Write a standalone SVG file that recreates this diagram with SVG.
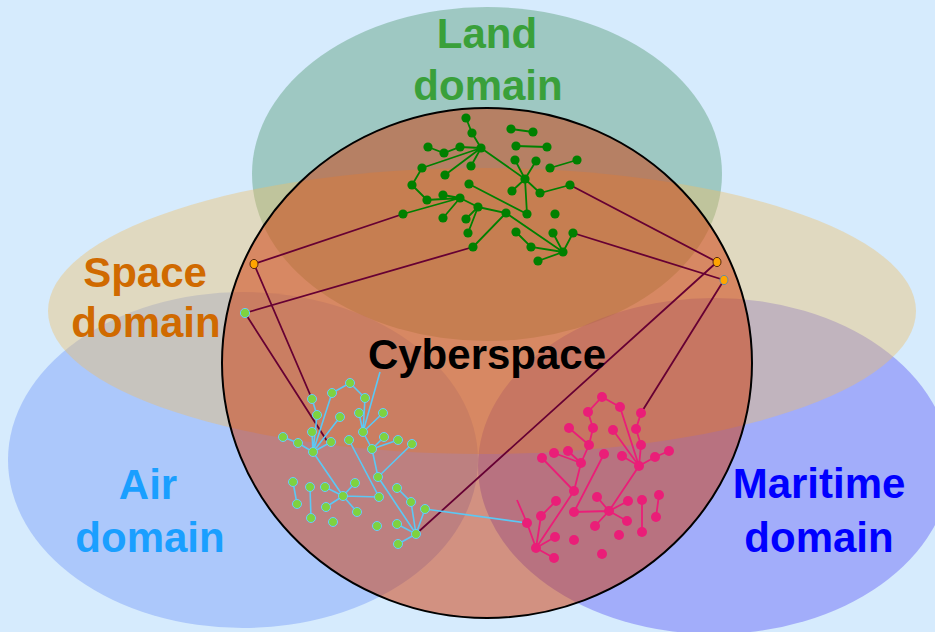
<svg xmlns="http://www.w3.org/2000/svg" width="935" height="632" viewBox="0 0 935 632">
<style>
.lbl{font-family:"Liberation Sans",Arial,sans-serif;font-weight:bold;font-size:42px;text-anchor:middle}
.le{stroke:#008000;stroke-width:1.8;fill:none}
.ln{fill:#008000}
.ae{stroke:#5bc8f5;stroke-width:1.6;fill:none}
.an{fill:#7fd23f;stroke:#66ccff;stroke-width:1}
.me{stroke:#ea1e78;stroke-width:1.8;fill:none}
.mn{fill:#ea1e78}
.cx{stroke:#660033;stroke-width:1.8;fill:none}
</style>
<rect width="935" height="632" fill="#d6ebfd"/>
<g id="land-domain"><ellipse cx="487" cy="174" rx="235" ry="167" fill="#5a9e7a" fill-opacity="0.45"/></g>
<g id="air-domain"><ellipse cx="243" cy="460" rx="235" ry="168" fill="#6f93f8" fill-opacity="0.4"/></g>
<g id="maritime-domain"><ellipse cx="714" cy="466" rx="236" ry="168" fill="#5650f5" fill-opacity="0.4"/></g>
<g id="space-domain"><ellipse cx="482" cy="311" rx="434" ry="143" fill="#efbe64" fill-opacity="0.4"/></g>
<g id="cyberspace"><ellipse cx="487" cy="363" rx="265" ry="255" fill="#ce3705" fill-opacity="0.5" stroke="#000" stroke-width="2"/></g>

<g id="connectors">
<path class="cx" d="M403,214L254,264M473,247L245,313M570,185L717,262M573,233L724,280M254,264L312,399M245,313L327,441M717,262L416,534M724,280L641,413"/>
<path class="ae" d="M425,509L527,523M363,432L380,372"/>
<path class="me" d="M527,523L517,500"/>
</g>

<g id="land-network">
<path class="le" d="M466,118L472,133L481,148M428,147L444,153L460,147L481,148M481,148L422,168M481,148L445,175M481,148L471,166M422,168L412,185L427,200L460,198M443,195L460,198M403,214L460,198M443,218L460,198M460,198L478,207L466,219M478,207L468,233M478,207L506,213L473,247M506,213L563,252M469,184L527,214L525,179M481,148L525,179M515,160L525,179M536,161L525,179M512,191L525,179M525,179L540,193L570,185M550,168L577,160M511,129L533,132M516,146L547,147M516,232L531,247L563,252M538,261L563,252M553,233L563,252M573,233L563,252"/>
<g class="ln">
<circle cx="466" cy="118" r="4.6"/><circle cx="472" cy="133" r="4.6"/><circle cx="481" cy="148" r="4.6"/><circle cx="428" cy="147" r="4.6"/><circle cx="444" cy="153" r="4.6"/><circle cx="460" cy="147" r="4.6"/><circle cx="471" cy="166" r="4.6"/><circle cx="445" cy="175" r="4.6"/><circle cx="422" cy="168" r="4.6"/><circle cx="412" cy="185" r="4.6"/><circle cx="427" cy="200" r="4.6"/><circle cx="443" cy="195" r="4.6"/><circle cx="460" cy="198" r="4.6"/><circle cx="403" cy="214" r="4.6"/><circle cx="443" cy="218" r="4.6"/><circle cx="478" cy="207" r="4.6"/><circle cx="466" cy="219" r="4.6"/><circle cx="468" cy="233" r="4.6"/><circle cx="473" cy="247" r="4.6"/><circle cx="506" cy="213" r="4.6"/><circle cx="469" cy="184" r="4.6"/><circle cx="527" cy="214" r="4.6"/><circle cx="525" cy="179" r="4.6"/><circle cx="515" cy="160" r="4.6"/><circle cx="536" cy="161" r="4.6"/><circle cx="512" cy="191" r="4.6"/><circle cx="540" cy="193" r="4.6"/><circle cx="570" cy="185" r="4.6"/><circle cx="550" cy="168" r="4.6"/><circle cx="577" cy="160" r="4.6"/><circle cx="511" cy="129" r="4.6"/><circle cx="533" cy="132" r="4.6"/><circle cx="516" cy="146" r="4.6"/><circle cx="547" cy="147" r="4.6"/><circle cx="555" cy="214" r="4.6"/><circle cx="563" cy="252" r="4.6"/><circle cx="516" cy="232" r="4.6"/><circle cx="531" cy="247" r="4.6"/><circle cx="538" cy="261" r="4.6"/><circle cx="553" cy="233" r="4.6"/><circle cx="573" cy="233" r="4.6"/>
</g>
</g>

<g id="air-network">
<path class="ae" d="M350,383L332,393L313,452M350,383L365,398L363,432M312,399L317,415L313,452M340,417L313,452M312,432L313,452M331,442L313,452M283,437L298,443L313,452M313,452L343,496M359,413L363,432M383,413L363,432M363,432L372,449L384,437M372,449L398,440M372,449L378,477L412,444M349,440L379,497L343,496M343,496L325,487M343,496L355,483M343,496L326,507M343,496L357,512M293,482L297,504M310,487L311,518M378,477L416,534M397,488L411,502L416,534M425,509L416,534M397,524L416,534L398,544"/>
<g class="an">
<circle cx="350" cy="383" r="4.5"/><circle cx="332" cy="393" r="4.5"/><circle cx="365" cy="398" r="4.5"/><circle cx="312" cy="399" r="4.5"/><circle cx="317" cy="415" r="4.5"/><circle cx="340" cy="417" r="4.5"/><circle cx="359" cy="413" r="4.5"/><circle cx="383" cy="413" r="4.5"/><circle cx="363" cy="432" r="4.5"/><circle cx="312" cy="432" r="4.5"/><circle cx="283" cy="437" r="4.5"/><circle cx="298" cy="443" r="4.5"/><circle cx="331" cy="442" r="4.5"/><circle cx="313" cy="452" r="4.5"/><circle cx="349" cy="440" r="4.5"/><circle cx="384" cy="437" r="4.5"/><circle cx="398" cy="440" r="4.5"/><circle cx="372" cy="449" r="4.5"/><circle cx="412" cy="444" r="4.5"/><circle cx="378" cy="477" r="4.5"/><circle cx="293" cy="482" r="4.5"/><circle cx="297" cy="504" r="4.5"/><circle cx="310" cy="487" r="4.5"/><circle cx="311" cy="518" r="4.5"/><circle cx="325" cy="487" r="4.5"/><circle cx="355" cy="483" r="4.5"/><circle cx="343" cy="496" r="4.5"/><circle cx="379" cy="497" r="4.5"/><circle cx="326" cy="507" r="4.5"/><circle cx="357" cy="512" r="4.5"/><circle cx="333" cy="522" r="4.5"/><circle cx="377" cy="526" r="4.5"/><circle cx="397" cy="488" r="4.5"/><circle cx="411" cy="502" r="4.5"/><circle cx="425" cy="509" r="4.5"/><circle cx="397" cy="524" r="4.5"/><circle cx="416" cy="534" r="4.5"/><circle cx="398" cy="544" r="4.5"/>
</g>
</g>

<g id="maritime-network">
<path class="me" d="M620,407L602,397L588,412L593,428L589,445L581,463M620,407L639,466M641,413L636,429L641,445L639,466M613,430L639,466M622,456L639,466M669,451L655,457L639,466M569,428L589,445M554,453L581,463M568,451L581,463M542,458L574,491M581,463L574,491L536,548M604,454L574,512L609,511M639,466L609,511M597,497L609,511M628,501L609,511M627,521L609,511M595,526L609,511M556,501L541,516L536,548M527,523L536,548M555,537L536,548L554,558M642,500L642,532M659,495L656,517"/>
<g class="mn">
<circle cx="602" cy="397" r="5"/><circle cx="620" cy="407" r="5"/><circle cx="588" cy="412" r="5"/><circle cx="641" cy="413" r="5"/><circle cx="569" cy="428" r="5"/><circle cx="593" cy="428" r="5"/><circle cx="613" cy="430" r="5"/><circle cx="636" cy="429" r="5"/><circle cx="589" cy="445" r="5"/><circle cx="641" cy="445" r="5"/><circle cx="669" cy="451" r="5"/><circle cx="554" cy="453" r="5"/><circle cx="568" cy="451" r="5"/><circle cx="542" cy="458" r="5"/><circle cx="581" cy="463" r="5"/><circle cx="604" cy="454" r="5"/><circle cx="622" cy="456" r="5"/><circle cx="655" cy="457" r="5"/><circle cx="639" cy="466" r="5"/><circle cx="574" cy="491" r="5"/><circle cx="556" cy="501" r="5"/><circle cx="597" cy="497" r="5"/><circle cx="628" cy="501" r="5"/><circle cx="642" cy="500" r="5"/><circle cx="659" cy="495" r="5"/><circle cx="609" cy="511" r="5"/><circle cx="574" cy="512" r="5"/><circle cx="541" cy="516" r="5"/><circle cx="527" cy="523" r="5"/><circle cx="627" cy="521" r="5"/><circle cx="595" cy="526" r="5"/><circle cx="656" cy="517" r="5"/><circle cx="555" cy="537" r="5"/><circle cx="574" cy="540" r="5"/><circle cx="619" cy="535" r="5"/><circle cx="642" cy="532" r="5"/><circle cx="536" cy="548" r="5"/><circle cx="554" cy="558" r="5"/><circle cx="602" cy="554" r="5"/>
</g>
</g>

<g id="gateways">
<ellipse cx="254" cy="264" rx="4" ry="4.6" fill="#ffa500" stroke="#5a2a10" stroke-width="1"/>
<circle cx="245" cy="313" r="4.6" fill="#7fd23f" stroke="#66ccff" stroke-width="1"/>
<ellipse cx="717" cy="262" rx="4" ry="4.6" fill="#ffa500" stroke="#5a2a10" stroke-width="1"/>
<ellipse cx="724" cy="280" rx="4" ry="4.6" fill="#ffa500" stroke="#6a8aa0" stroke-width="1"/>
</g>

<g id="labels">
<text class="lbl" x="487" y="48" fill="#3aa03a">Land</text>
<text class="lbl" x="488" y="100" fill="#3aa03a">domain</text>
<text class="lbl" x="145" y="287" fill="#d06a00">Space</text>
<text class="lbl" x="146" y="337" fill="#d06a00">domain</text>
<text class="lbl" x="148" y="499" fill="#1a9fff">Air</text>
<text class="lbl" x="150" y="552" fill="#1a9fff">domain</text>
<text class="lbl" x="819" y="498" fill="#0000ff">Maritime</text>
<text class="lbl" x="819" y="552" fill="#0000ff">domain</text>
<text class="lbl" x="487" y="369" fill="#000">Cyberspace</text>
</g>
</svg>
